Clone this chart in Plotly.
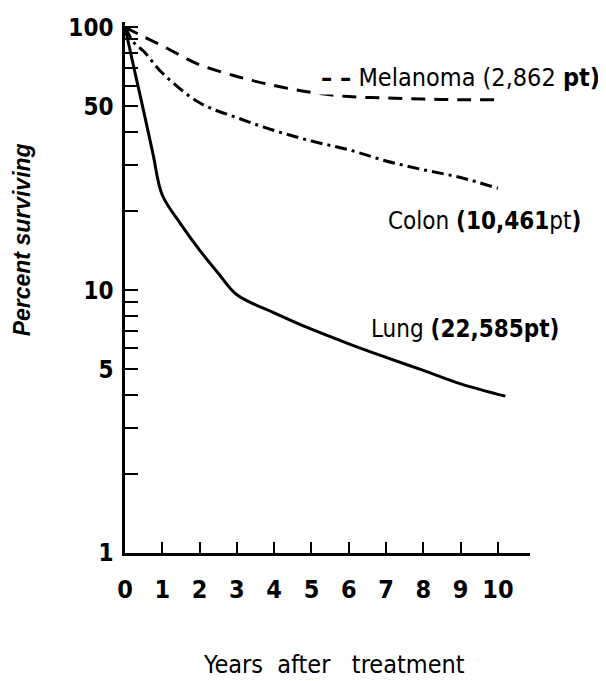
import plotly.graph_objects as go

# ---- data ----
years_lung = [0, 0.25, 0.5, 0.75, 1, 1.5, 2, 2.5, 3, 4, 5, 6, 7, 8, 9, 10.2]
lung = [100, 69, 48, 33, 23, 17.8, 14.2, 11.6, 9.6, 8.2, 7.1, 6.25, 5.55, 4.95, 4.4, 3.95]

years_colon = [0, 0.25, 0.5, 1, 2, 3, 4, 5, 6, 7, 8, 9, 10]
colon = [100, 87, 81, 67, 51.6, 45.3, 40.5, 36.9, 34.2, 31.0, 28.7, 26.8, 24.4]

years_mel = [0, 0.5, 1, 1.5, 2, 3, 4, 5, 6, 7, 8, 9, 10]
melanoma = [100, 92, 85, 78, 72, 65, 60, 56.5, 54.5, 53.8, 53.3, 53, 53]

x_ticks = list(range(0, 11))
x_ticktext = [str(v) for v in x_ticks]
y_ticks = [1, 2, 3, 4, 5, 6, 7, 8, 9, 10, 20, 30, 40, 50, 60, 70, 80, 90, 100]
y_ticktext = ["1", "", "", "", "5", "", "", "", "", "10", "", "", "", "50", "", "", "", "", "100"]

label_mel = "<b>– –</b> Melanoma (2,862 <b>pt)</b>"
label_colon = "Colon <b>(10,461</b>pt<b>)</b>"
label_lung = "Lung <b>(22,585pt)</b>"

NARROW = "Liberation Sans Narrow, DejaVu Sans Condensed, Arial Narrow, sans-serif"

fig = go.Figure()
fig.add_trace(go.Scatter(x=years_mel, y=melanoma, mode="lines",
                         line=dict(color="black", width=3, dash="14px,9px"),
                         line_shape="spline", showlegend=False))
fig.add_trace(go.Scatter(x=years_colon, y=colon, mode="lines",
                         line=dict(color="black", width=3, dash="12px,5px,3px,5px"),
                         line_shape="spline", showlegend=False))
fig.add_trace(go.Scatter(x=years_lung, y=lung, mode="lines",
                         line=dict(color="black", width=3),
                         line_shape="spline", showlegend=False))

# the page body has an 8px margin, so the figure is 8px smaller than the window
fig.update_layout(
    width=598, height=673,
    margin=dict(l=117, r=76, t=14, b=128),
    paper_bgcolor="white", plot_bgcolor="white",
    font=dict(family=NARROW, color="black"),
    xaxis=dict(range=[0, 10.86], showgrid=False, zeroline=False,
               showline=True, linecolor="black", linewidth=2.5,
               ticks="inside", ticklen=11, tickwidth=2, tickcolor="black",
               tickvals=x_ticks, ticktext=x_ticktext,
               tickfont=dict(family=NARROW, size=25, weight="bold"),
               ticklabelstandoff=12, automargin=False),
    yaxis=dict(type="log", range=[0, 2.02], showgrid=False, zeroline=False,
               showline=True, linecolor="black", linewidth=2.5,
               ticks="inside", ticklen=13, tickwidth=2, tickcolor="black",
               tickvals=y_ticks, ticktext=y_ticktext,
               tickfont=dict(family=NARROW, size=24, weight="bold"),
               ticklabelstandoff=4, automargin=False),
)

fig.add_annotation(text=label_mel, xref="paper", yref="paper", x=0.477, y=0.895,
                   xanchor="left", yanchor="middle", showarrow=False,
                   bgcolor="white", borderpad=2,
                   font=dict(family=NARROW, size=25, color="black"))
fig.add_annotation(text=label_colon, xref="paper", yref="paper", x=0.645, y=0.625,
                   xanchor="left", yanchor="middle", showarrow=False,
                   font=dict(family=NARROW, size=24, color="black"))
fig.add_annotation(text=label_lung, xref="paper", yref="paper", x=0.603, y=0.422,
                   xanchor="left", yanchor="middle", showarrow=False,
                   font=dict(family=NARROW, size=24, color="black"))

# axis titles
fig.add_annotation(text="<b><i>Percent surviving</i></b>", xref="paper", yref="paper",
                   x=-0.254, y=0.589, xanchor="center", yanchor="middle", textangle=-90,
                   showarrow=False,
                   font=dict(family="Liberation Sans, Arial, sans-serif", size=23, color="black"))
fig.add_annotation(text="Years&nbsp; after&nbsp;&nbsp; treatment", xref="paper", yref="paper",
                   x=0.515, y=-0.2395, xanchor="center", yanchor="bottom",
                   showarrow=False, borderpad=0,
                   font=dict(family=NARROW, size=25, color="black"))

fig.write_html("out.html")
